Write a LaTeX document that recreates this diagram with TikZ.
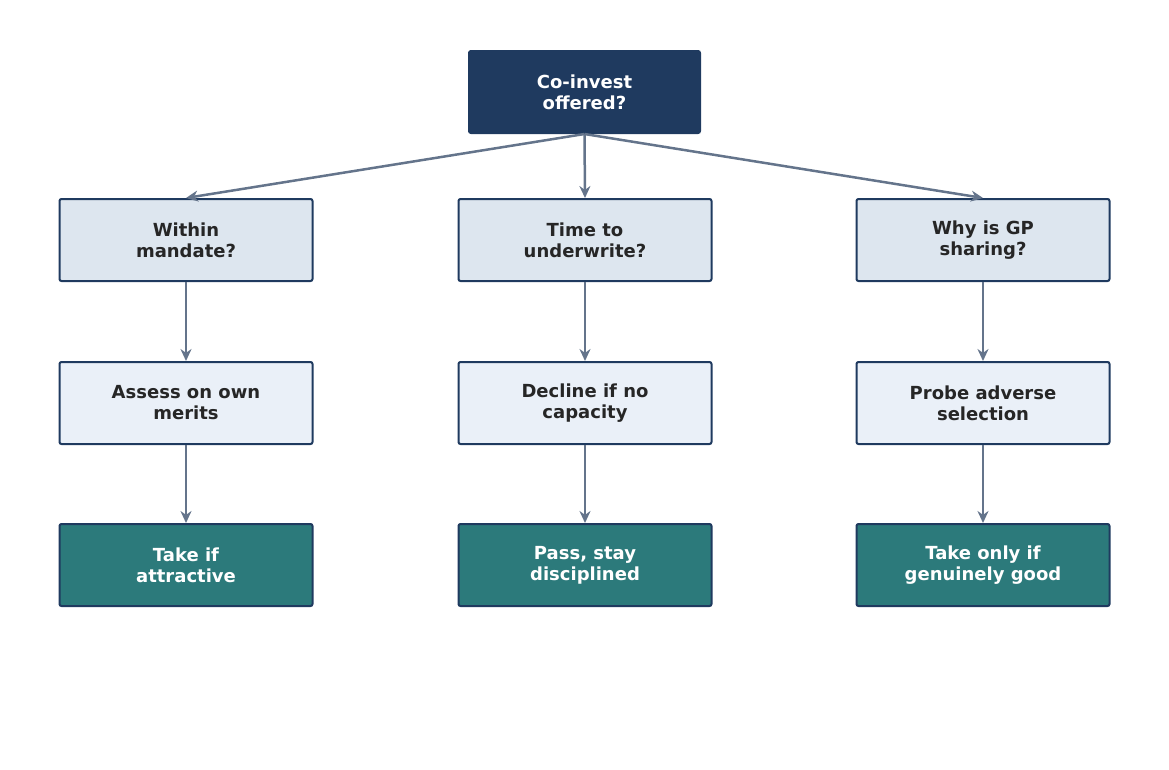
\documentclass[tikz,border=0pt]{standalone}
\usepackage{fontspec}
\setmainfont{DejaVu Sans}
\usetikzlibrary{arrows.meta}
\definecolor{navy}{HTML}{1F3A5F}
\definecolor{pale}{HTML}{DDE6EF}
\definecolor{paler}{HTML}{EAF0F8}
\definecolor{teal}{HTML}{2C7A7B}
\definecolor{slate}{HTML}{64748B}
\tikzset{
  box/.style={draw=navy, line width=2pt, rounded corners=2pt, minimum width=253pt,
    minimum height=82pt, align=center, font=\fontsize{18}{21}\selectfont\bfseries, text=black!85},
  root/.style={box, fill=navy, draw=navy, minimum width=231pt, text=white},
  ask/.style={box, fill=pale},
  act/.style={box, fill=paler},
  result/.style={box, fill=teal, text=white},
  link/.style={draw=slate, line width=2.5pt, -{Stealth[length=12pt,width=11pt]}}
}
\begin{document}
\begin{tikzpicture}[x=1pt,y=-1pt]
  \useasboundingbox (0,0) rectangle (1169,769);
  \node[root] (R) at (584.5,92) {Co-invest\\offered?};
  \node[ask] (A1) at (186,240) {Within\\mandate?};
  \node[ask] (B1) at (585,240) {Time to\\underwrite?};
  \node[ask] (C1) at (983,240) {Why is GP\\sharing?};
  \node[act] (A2) at (186,403) {Assess on own\\merits};
  \node[act] (B2) at (585,403) {Decline if no\\capacity};
  \node[act] (C2) at (983,403) {Probe adverse\\selection};
  \node[result] (A3) at (186,565) {Take if\\attractive};
  \node[result] (B3) at (585,565) {Pass, stay\\disciplined};
  \node[result] (C3) at (983,565) {Take only if\\genuinely good};
  \foreach \n in {A1,B1,C1}
    \path[link] (R.south) -- (\n.north);
  \foreach \c in {A,B,C}
  {
    \path[link] (\c1) -- (\c2);
    \path[link] (\c2) -- (\c3);
  }
\end{tikzpicture}
\end{document}
